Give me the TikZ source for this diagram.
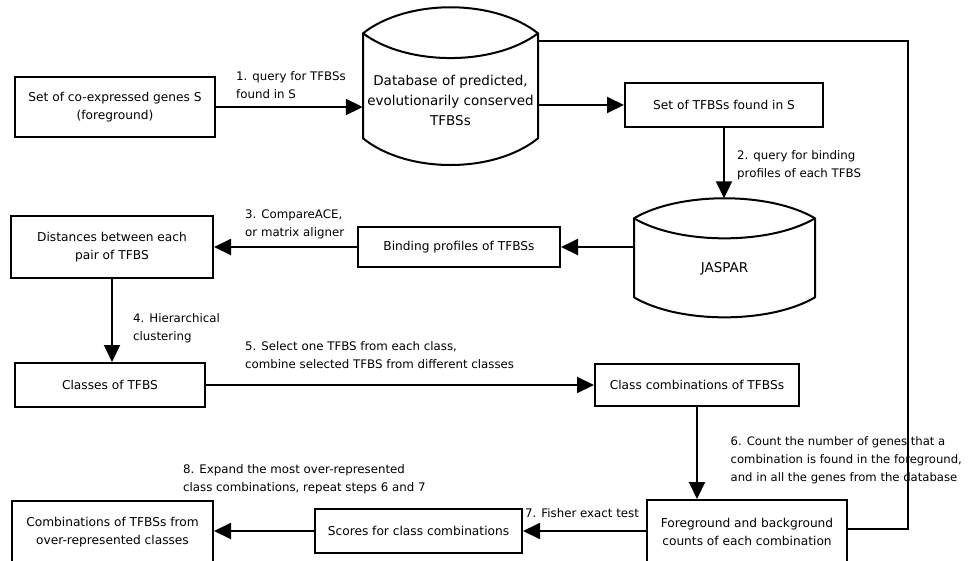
\documentclass[tikz,border=0pt]{standalone}
\usepackage{fontspec}
\setmainfont{DejaVu Sans}
\usetikzlibrary{arrows.meta}
\tikzset{
  boxfont/.style={font=\fontsize{12.2}{17.8}\selectfont},
  lblfont/.style={font=\fontsize{11.8}{17.9}\selectfont},
  box/.style={draw, line width=2pt, align=center, inner sep=0pt, boxfont},
  dbtxt/.style={align=center, inner sep=0pt, font=\fontsize{13.5}{19.6}\selectfont},
  lbl/.style={align=left, inner sep=0pt, anchor=north west, lblfont},
  conn/.style={line width=2pt},
  arr/.style={line width=2pt, -{Triangle[length=17pt,width=16pt]}},
  dbline/.style={line width=2pt, line join=round}
}
\begin{document}
\begin{tikzpicture}[x=1pt,y=-1pt]
\useasboundingbox (0,0) rectangle (968,560);
\clip (0,0) rectangle (968,560);

% boxes
\node[box, minimum width=200pt, minimum height=60pt] (genes) at (115,107) {Set of co-expressed genes S\\(foreground)};
\node[box, minimum width=198pt, minimum height=44pt] (set) at (724,105) {Set of TFBSs found in S};
\node[box, minimum width=202pt, minimum height=40pt] (bind) at (459,247) {Binding profiles of TFBSs};
\node[box, minimum width=202pt, minimum height=62pt] (dist) at (112,247) {Distances between each\\pair of TFBS};
\node[box, minimum width=190pt, minimum height=44pt] (classes) at (110,385) {Classes of TFBS};
\node[box, minimum width=204pt, minimum height=42pt] (cc) at (697,385) {Class combinations of TFBSs};
\node[box, minimum width=200pt, minimum height=64pt] (fg) at (747,532) {Foreground and background\\counts of each combination};
\node[box, minimum width=207pt, minimum height=44pt] (scores) at (418.5,531) {Scores for class combinations};
\node[box, minimum width=201pt, minimum height=62pt] (comb) at (112.5,532) {Combinations of TFBSs from\\over-represented classes};

% database cylinder
\node[dbtxt, minimum width=175pt] (db) at (450.5,100.5) {Database of predicted,\\evolutionarily conserved\\TFBSs};
\draw[dbline] (363,33.3) .. controls (407,-1.4) and (494,-1.4) .. (538,33.3)
  -- (538,138.3) .. controls (494,173.9) and (407,173.9) .. (363,138.3) -- cycle;
\draw[dbline] (363,33.3) .. controls (407,66.3) and (494,66.3) .. (538,33.3);

% JASPAR cylinder
\node[dbtxt, minimum width=181pt] (jaspar) at (724.5,269) {JASPAR};
\coordinate (jtop) at (724.5,198.3);
\draw[dbline] (634,218.3) .. controls (679,191.6) and (770,191.6) .. (815,218.3)
  -- (815,297.3) .. controls (770,324) and (679,324) .. (634,297.3) -- cycle;
\draw[dbline] (634,218.3) .. controls (679,245) and (770,245) .. (815,218.3);

% labels
\node[lbl] (l1) at (236,71.4) {1. query for TFBSs\\found in S};
\node[lbl] (l2) at (737,150.4) {2. query for binding\\profiles of each TFBS};
\node[lbl] (l3) at (245,209.7) {3. CompareACE,\\or matrix aligner};
\node[lbl] (l4) at (133,313) {4. Hierarchical\\clustering};
\node[lbl] (l5) at (245,341.4) {5. Select one TFBS from each class,\\combine selected TFBS from different classes};
\node[lbl, font=\fontsize{11.65}{17.9}\selectfont] (l6) at (730.5,436.4) {6. Count the number of genes that a\\combination is found in the foreground,\\and in all the genes from the database};
\node[lbl] (l7) at (525,508.4) {7. Fisher exact test};
\node[lbl] (l8) at (183,464.7) {8. Expand the most over-represented\\class combinations, repeat steps 6 and 7};

% connectors
\draw[arr] (genes.east) -- (genes.east -| db.west);
\draw[arr] (set.west -| db.east) -- (set.west);
\draw[arr] (set.south) -- (set.south |- jtop);
\draw[arr] (bind.east -| jaspar.west) -- (bind.east);
\draw[arr] (bind.west) -- (bind.west -| dist.east);
\draw[arr] (dist.south) -- (dist.south |- classes.north);
\draw[arr] (classes.east) -- (classes.east -| cc.west);
\draw[arr] (cc.south) -- (cc.south |- fg.north);
\draw[arr] (fg.west |- scores.east) -- (scores.east);
\draw[arr] (scores.west) -- (scores.west -| comb.east);
\coordinate (loop) at (908,41);
\draw[conn] ([yshift=3pt]fg.east) -| (loop) -- (loop -| db.east);
\end{tikzpicture}
\end{document}
